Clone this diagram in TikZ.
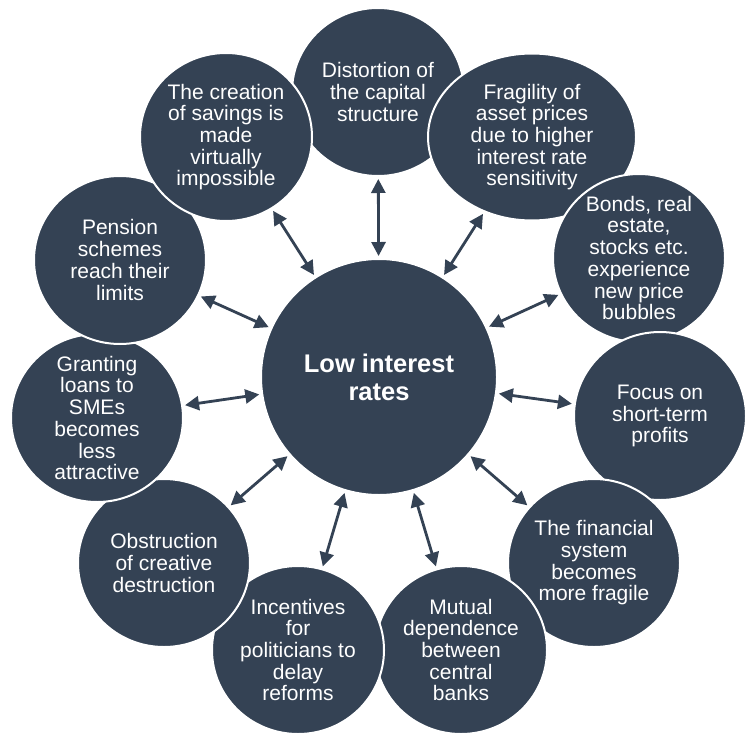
\documentclass[tikz,border=0pt]{standalone}
\usepackage{fontspec}
\setmainfont{Liberation Sans}
\usetikzlibrary{shapes.geometric,arrows.meta}
\definecolor{navy}{RGB}{52,66,84}
\begin{document}
\begin{tikzpicture}[x=1pt,y=-1pt,
 bubble/.style={ellipse,fill=navy,draw=white,line width=2pt,inner sep=0pt,minimum width=172pt,minimum height=168pt},
 txt/.style={align=center,text=white,font=\fontsize{21}{21.7}\selectfont,inner sep=0pt},
 link/.style={draw=navy,line width=2.8pt,{Triangle[length=14pt,width=14pt]}-{Triangle[length=14pt,width=14pt]},shorten <=2pt,shorten >=2pt}]
\useasboundingbox (0,0) rectangle (746,733);
\node[bubble] (distortion) at (378,92) {};
\node[txt] (distortionT) at (distortion.center) {Distortion of\\the capital\\structure};
\node[bubble,minimum width=208pt,minimum height=167pt] (fragility) at (532,137) {};
\node[txt] (fragilityT) at (fragility.center) {Fragility of\\asset prices\\due to higher\\interest rate\\sensitivity};
\node[bubble] (bonds) at (639,258) {};
\node[txt] (bondsT) at (bonds.center) {Bonds, real\\estate,\\stocks etc.\\experience\\new price\\bubbles};
\node[bubble] (focus) at (660,416) {};
\node[txt] (focusT) at (focus.center) {Focus on\\short-term\\profits};
\node[bubble] (financial) at (594,563) {};
\node[txt] (financialT) at (financial.center) {The financial\\system\\becomes\\more fragile};
\node[bubble] (mutual) at (461,650) {};
\node[txt] (mutualT) at (mutual.center) {Mutual\\dependence\\between\\central\\banks};
\node[bubble] (incentives) at (298,650) {};
\node[txt] (incentivesT) at (incentives.center) {Incentives\\for\\politicians to\\delay\\reforms};
\node[bubble] (obstruction) at (164,563) {};
\node[txt] (obstructionT) at (obstruction.center) {Obstruction\\of creative\\destruction};
\node[bubble] (granting) at (97,418) {};
\node[txt] (grantingT) at (granting.center) {Granting\\loans to\\SMEs\\becomes\\less\\attractive};
\node[bubble] (pension) at (120,260) {};
\node[txt] (pensionT) at (pension.center) {Pension\\schemes\\reach their\\limits};
\node[bubble] (creation) at (226,137) {};
\node[txt] (creationT) at (creation.center) {The creation\\of savings is\\made\\virtually\\impossible};
\node[bubble,minimum width=236pt,minimum height=236pt] (center) at (379,377) {};
\node[txt,font=\bfseries\fontsize{25.5}{28}\selectfont] (centerT) at (center.center) {Low interest\\rates};
\foreach \n in {distortion,fragility,bonds,focus,financial,mutual,incentives,obstruction,granting,pension,creation}
  \draw[link] (\n) -- (center);
\end{tikzpicture}
\end{document}
